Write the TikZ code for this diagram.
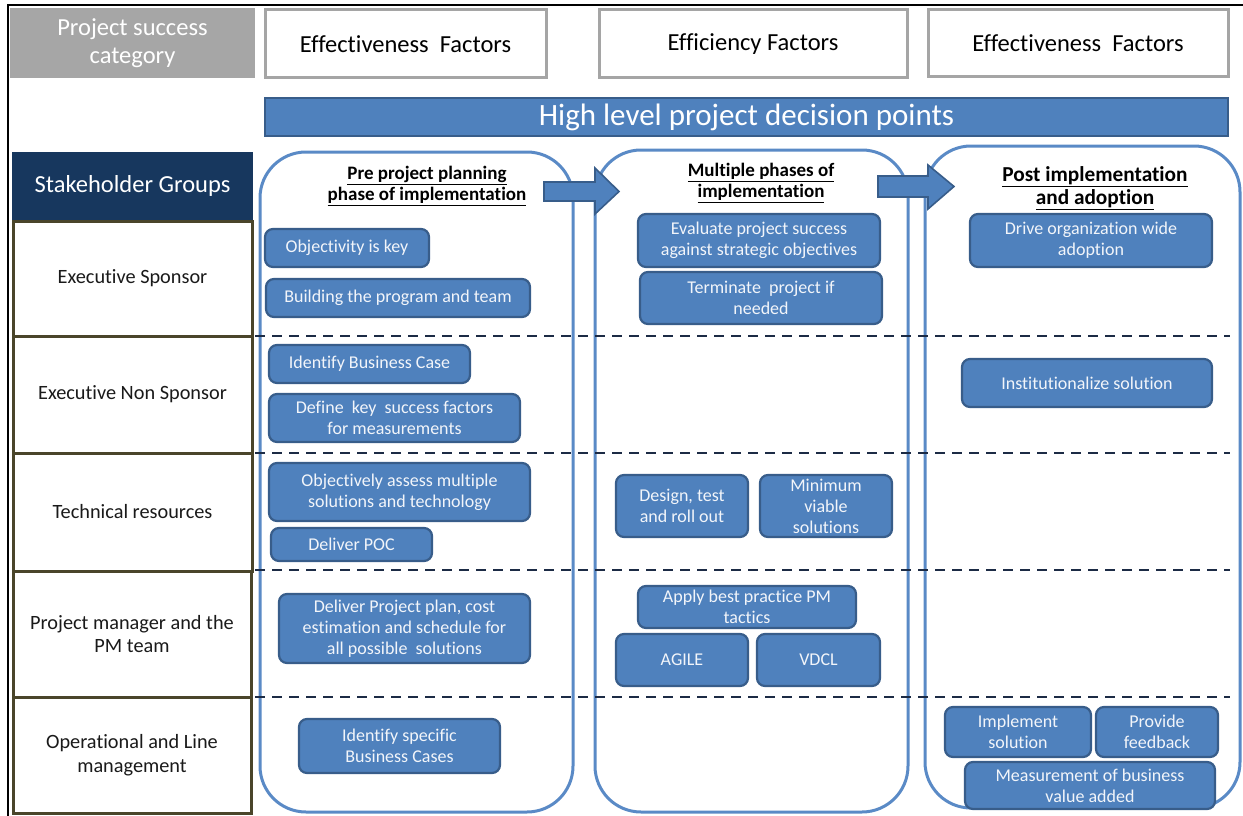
\documentclass[tikz,border=0pt]{standalone}
\usepackage{fontspec}
\setmainfont{Carlito}[Ligatures={NoCommon}]
\usetikzlibrary{shapes.arrows}

\definecolor{boxblue}{HTML}{4F81BD}
\definecolor{boxedge}{HTML}{385D8A}
\definecolor{phaseline}{HTML}{5A8AC6}
\definecolor{navyfill}{HTML}{17375E}
\definecolor{dashnavy}{HTML}{1C2B45}
\definecolor{catgray}{HTML}{A6A6A6}
\definecolor{hdrgray}{HTML}{A5A5A5}
\definecolor{rowedge}{HTML}{4A452A}
\definecolor{boxtext}{HTML}{F2F5FA}
\definecolor{labeltext}{HTML}{1A1A1A}

% place a node by its two corners (left, top, right, bottom)
\newcommand\placenode[7]{\node[#1,minimum width={(#5-#3)*1pt},minimum height={(#6-#4)*1pt}] (#2) at ({(#3+#5)/2},{(#4+#6)/2}) {#7};}

\begin{document}
\begin{tikzpicture}[x=1pt,y=-1pt,
  actbox/.style={draw=boxedge,fill=boxblue,line width=2.2pt,rounded corners=8pt,
    text=boxtext,align=center,inner sep=0pt,
    font=\fontsize{18}{21}\selectfont},
  phasebox/.style={draw=phaseline,fill=white,line width=3pt,rounded corners=46pt,inner sep=0pt},
  rowbox/.style={draw=rowedge,line width=3pt,fill=white,text=labeltext,align=center,
    inner sep=0pt,font=\fontsize{20.3}{23.5}\selectfont},
  hdrbox/.style={draw=hdrgray,line width=3pt,fill=white,text=black,inner sep=0pt,
    font=\fontsize{24.5}{28}\selectfont},
  phasehead/.style={align=center,text=black,inner sep=0pt,font=\bfseries\fontsize{19}{20.5}\selectfont},
  rowsep/.style={dashnavy,line width=2.4pt,dash pattern=on 10pt off 7pt},
  blockarrow/.style={draw=boxedge,fill=boxblue,line width=1.6pt,line join=miter}
]
\useasboundingbox (0,0) rectangle (1243,816);

% outer frame edges
\draw[black,line width=2.6pt] (8,816) -- (8,5) -- (1243,5);

% top header row
\placenode{draw=none,fill=catgray,text=white,align=center,inner sep=0pt,font=\fontsize{24.5}{28}\selectfont}{cat}{10}{8}{255}{78}{Project success\\category}
\placenode{hdrbox}{h1}{265}{10}{546}{78}{Effectiveness\ \ Factors}
\placenode{hdrbox}{h2}{599}{10}{907}{78}{Efficiency Factors}
\placenode{hdrbox}{h3}{928}{10}{1228}{77}{Effectiveness\ \ Factors}

% decision point banner
\placenode{draw=boxedge,fill=boxblue,line width=2pt,text=white,inner sep=0pt,font=\fontsize{31}{34}\selectfont}{banner}{265}{98}{1228}{136}{High level project decision points}

% stakeholder column
\placenode{draw=none,fill=navyfill,text=white,inner sep=0pt,font=\fontsize{24.5}{28}\selectfont}{sg}{12}{152}{253}{220}{Stakeholder Groups}
\placenode{rowbox}{r1}{13}{221}{252}{336}{Executive Sponsor}
\placenode{rowbox}{r2}{13}{336}{252}{453}{Executive Non Sponsor}
\placenode{rowbox}{r3}{13}{453}{252}{571}{Technical resources}
\placenode{rowbox}{r4}{13}{571}{251}{697}{Project manager and the\\PM team}
\placenode{rowbox}{r5}{13}{697}{251}{813}{Operational and Line\\management}

% phase containers
\placenode{phasebox}{p1}{260}{152}{573}{812}{}
\placenode{phasebox}{p2}{595}{150}{908}{812}{}
\placenode{phasebox}{p3}{925}{146}{1240}{808}{}

% row separators
\coordinate (d1a) at (255,336);  \coordinate (d1b) at (1230,336);
\coordinate (d2a) at (255,453);  \coordinate (d2b) at (1230,453);
\coordinate (d3a) at (255,570);  \coordinate (d3b) at (1230,570);
\coordinate (d4a) at (255,697);  \coordinate (d4b) at (1230,697);
\draw[rowsep] (d1a) -- (d1b);
\draw[rowsep] (d2a) -- (d2b);
\draw[rowsep] (d3a) -- (d3b);
\draw[rowsep] (d4a) -- (d4b);

% block arrows between phases
\draw[blockarrow] (544,182) -- (595,182) -- (595,168) -- (619,191.5) -- (595,214) -- (595,201) -- (544,201) -- cycle;
\draw[blockarrow] (878,176) -- (928,176) -- (928,165) -- (954,186.5) -- (928,209) -- (928,197) -- (878,197) -- cycle;

% phase headings
\node[phasehead] (ph1) at (427,186) {\underline{Pre project planning}\\\underline{phase of implementation}};
\node[phasehead] (ph2) at (761,183) {\underline{Multiple phases of}\\\underline{implementation}};
\node[phasehead,font=\bfseries\fontsize{21.3}{23.5}\selectfont] (ph3) at (1095,188) {\underline{Post implementation}\\\underline{and adoption}};

% pre project planning activities
\placenode{actbox}{b1}{265}{229}{429}{267}{Objectivity is key}
\placenode{actbox}{b2}{266}{279}{530}{317}{Building the program and team}
\placenode{actbox}{b3}{269}{345}{470}{383}{Identify Business Case}
\placenode{actbox}{b4}{269}{394}{520}{442}{Define\ \ key\ \ success factors\\for measurements}
\placenode{actbox}{b5}{269}{463}{530}{521}{Objectively assess multiple\\solutions and technology}
\placenode{actbox}{b6}{271}{528}{432}{561}{Deliver POC}
\placenode{actbox}{b7}{279}{594}{530}{663}{Deliver Project plan, cost\\estimation and schedule for\\all possible\ \ solutions}
\placenode{actbox}{b8}{299}{719}{500}{773}{Identify specific\\Business Cases}

% multiple phases activities
\placenode{actbox}{c1}{638}{214}{880}{267}{Evaluate project success\\against strategic objectives}
\placenode{actbox}{c2}{640}{272}{882}{324}{Terminate\ \ project if\\needed}
\placenode{actbox}{c3}{616}{475}{748}{537}{Design, test\\and roll out}
\placenode{actbox}{c4}{760}{475}{892}{537}{Minimum\\viable\\solutions}
\placenode{actbox}{c5}{638}{586}{856}{628}{Apply best practice PM\\tactics}
\placenode{actbox}{c6}{616}{634}{748}{686}{AGILE}
\placenode{actbox}{c7}{757}{634}{880}{686}{VDCL}

% post implementation activities
\placenode{actbox}{e1}{970}{214}{1212}{267}{Drive organization wide\\adoption}
\placenode{actbox}{e2}{962}{359}{1212}{407}{Institutionalize solution}
\placenode{actbox}{e3}{945}{707}{1091}{757}{Implement\\solution}
\placenode{actbox}{e4}{1096}{707}{1218}{757}{Provide\\feedback}
\placenode{actbox}{e5}{965}{762}{1215}{809}{Measurement of business\\value added}

\end{tikzpicture}
\end{document}
